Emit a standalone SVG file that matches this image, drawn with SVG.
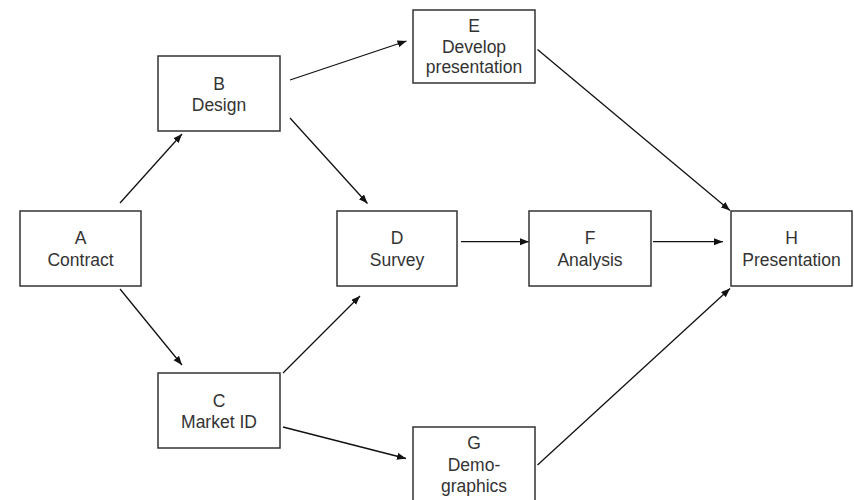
<svg xmlns="http://www.w3.org/2000/svg" width="854" height="500" viewBox="0 0 854 500">
  <defs>
    <marker id="arrow" markerUnits="userSpaceOnUse" markerWidth="10" markerHeight="8" refX="9" refY="3.5" orient="auto">
      <path d="M0,0 L9,3.5 L0,7 Z" fill="#111"/>
    </marker>
    <style>
      .box { fill: #fff; stroke: #333; stroke-width: 1.5; }
      .lbl { font-family: "Liberation Sans", Arial, sans-serif; font-size: 17.5px; fill: #333; text-anchor: middle; }
      .edge { stroke: #111; stroke-width: 1.3; fill: none; marker-end: url(#arrow); }
    </style>
  </defs>
  <rect width="854" height="500" fill="#fff"/>

  <!-- connectors -->
  <g id="connectors">
    <line class="edge" x1="120" y1="203" x2="182" y2="134"/>
    <line class="edge" x1="120" y1="289" x2="182" y2="365"/>
    <line class="edge" x1="290" y1="80" x2="406.5" y2="41"/>
    <line class="edge" x1="290" y1="118" x2="367.5" y2="203.5"/>
    <line class="edge" x1="283" y1="373" x2="360" y2="296"/>
    <line class="edge" x1="283" y1="427" x2="406" y2="458.5"/>
    <line class="edge" x1="461" y1="241.7" x2="529" y2="241.7"/>
    <line class="edge" x1="653" y1="241.7" x2="723" y2="241.7"/>
    <line class="edge" x1="537.5" y1="49.5" x2="730" y2="210.5"/>
    <line class="edge" x1="537.5" y1="465" x2="730" y2="288.5"/>
  </g>

  <!-- nodes -->
  <g id="node-a">
    <rect class="box" x="20" y="211" width="121" height="75"/>
    <text class="lbl" x="80.5" y="244">A</text>
    <text class="lbl" x="80.5" y="266">Contract</text>
  </g>
  <g id="node-b">
    <rect class="box" x="158" y="56" width="122" height="75"/>
    <text class="lbl" x="219" y="90">B</text>
    <text class="lbl" x="219" y="111">Design</text>
  </g>
  <g id="node-c">
    <rect class="box" x="158" y="373" width="122" height="75"/>
    <text class="lbl" x="219" y="406.5">C</text>
    <text class="lbl" x="219" y="428">Market ID</text>
  </g>
  <g id="node-d">
    <rect class="box" x="337" y="211" width="120" height="75"/>
    <text class="lbl" x="397" y="244">D</text>
    <text class="lbl" x="397" y="266">Survey</text>
  </g>
  <g id="node-e">
    <rect class="box" x="413" y="10" width="122" height="73"/>
    <text class="lbl" x="474" y="31.5">E</text>
    <text class="lbl" x="474" y="52.5">Develop</text>
    <text class="lbl" x="474" y="73">presentation</text>
  </g>
  <g id="node-f">
    <rect class="box" x="529" y="211" width="122" height="75"/>
    <text class="lbl" x="590" y="244">F</text>
    <text class="lbl" x="590" y="266">Analysis</text>
  </g>
  <g id="node-g">
    <rect class="box" x="413" y="427" width="122" height="76"/>
    <text class="lbl" x="474" y="449">G</text>
    <text class="lbl" x="474" y="471">Demo-</text>
    <text class="lbl" x="474" y="491.5">graphics</text>
  </g>
  <g id="node-h">
    <rect class="box" x="731" y="211" width="121" height="75"/>
    <text class="lbl" x="791.5" y="244">H</text>
    <text class="lbl" x="791.5" y="266">Presentation</text>
  </g>
</svg>
